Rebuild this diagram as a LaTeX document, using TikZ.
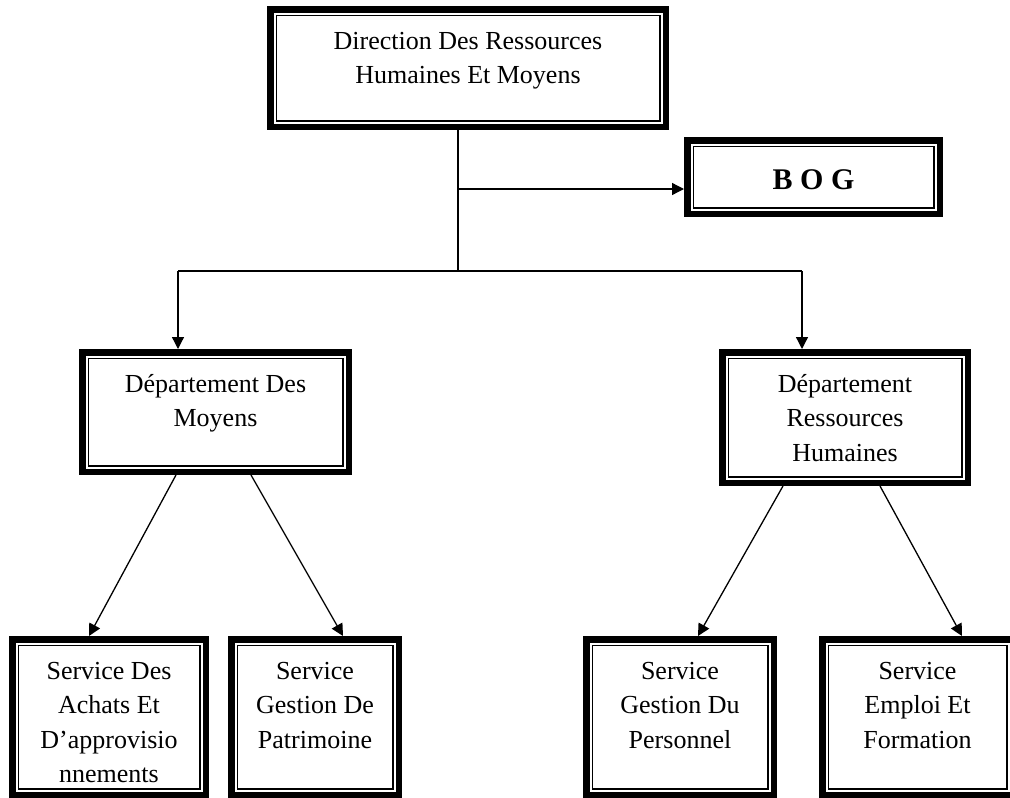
\documentclass[tikz,border=0pt]{standalone}
\usepackage{fontspec}
\setmainfont{Liberation Serif}
\usetikzlibrary{arrows.meta,calc}
\tikzset{
  frame/.style={draw=black, line width=6.5pt, inner sep=0pt, rectangle,
    append after command={\pgfextra{\draw[line width=1.6pt]
      ($(\tikzlastnode.south west)+(9.3pt,9.3pt)$) rectangle
      ($(\tikzlastnode.north east)+(-9.3pt,-9.3pt)$);}}},
  txt/.style={inner sep=0pt, align=center, anchor=north,
    font=\fontsize{26}{34.5}\selectfont},
  bogtxt/.style={inner sep=0pt, anchor=base,
    font=\fontsize{30}{34}\selectfont\bfseries},
  conn/.style={draw=black, line width=1.3pt},
  arr/.style={conn, -{Triangle[length=12pt,width=12pt]}}
}
\newcommand{\fs}{\rule{0pt}{25pt}}
\begin{document}
\begin{tikzpicture}[x=1pt,y=-1pt]
\useasboundingbox (0,0) rectangle (1010,798);
% frames
\node[frame, minimum width=395.5pt, minimum height=117.5pt] (top) at (468,68) {};
\node[frame, minimum width=252.5pt, minimum height=73.5pt] (bog) at (813.5,177) {};
\node[frame, minimum width=266.5pt, minimum height=119.5pt] (dm) at (215.5,412) {};
\node[frame, minimum width=245.5pt, minimum height=130.5pt] (drh) at (845,417.5) {};
\node[frame, minimum width=193.5pt, minimum height=155.5pt] (s1) at (109,717) {};
\node[frame, minimum width=167.5pt, minimum height=155.5pt] (s2) at (315,717) {};
\node[frame, minimum width=187.5pt, minimum height=155.5pt] (s3) at (680,717) {};
\node[frame, minimum width=190.5pt, minimum height=155.5pt] (s4) at (917.5,717) {};
% texts
\node[txt] (topt) at ([yshift=-18pt]top.north) {\fs Direction Des Ressources\\Humaines Et Moyens};
\node[bogtxt] (bogt) at ([yshift=-12pt]bog.center) {B O G};
\node[txt] (dmt) at ([yshift=-18pt]dm.north) {\fs Département Des\\Moyens};
\node[txt] (drht) at ([yshift=-18pt]drh.north) {\fs Département\\Ressources\\Humaines};
\node[txt] (s1t) at ([yshift=-18pt]s1.north) {\fs Service Des\\Achats Et\\D’approvisio\\nnements};
\node[txt] (s2t) at ([yshift=-18pt]s2.north) {\fs Service\\Gestion De\\Patrimoine};
\node[txt] (s3t) at ([yshift=-18pt]s3.north) {\fs Service\\Gestion Du\\Personnel};
\node[txt] (s4t) at ([yshift=-18pt]s4.north) {\fs Service\\Emploi Et\\Formation};
% coordinates
\coordinate (j) at (458,271);
\coordinate (b) at (458,189);
\coordinate (l) at (178,271);
\coordinate (r) at (802,271);
\coordinate (x1a) at (176,0);
\coordinate (x1b) at (89,0);
\coordinate (x2a) at (251,0);
\coordinate (x2b) at (343,0);
\coordinate (x3a) at (783,0);
\coordinate (x3b) at (698,0);
\coordinate (x4a) at (880,0);
\coordinate (x4b) at (962,0);
% connectors
\draw[conn] (top.south -| j) -- (j);
\draw[arr] (b) -- (b -| bog.west);
\draw[conn] (l) -- (r);
\draw[arr] (l) -- (l |- dm.north);
\draw[arr] (r) -- (r |- drh.north);
\draw[arr] (dm.south -| x1a) -- (s1.north -| x1b);
\draw[arr] (dm.south -| x2a) -- (s2.north -| x2b);
\draw[arr] (drh.south -| x3a) -- (s3.north -| x3b);
\draw[arr] (drh.south -| x4a) -- (s4.north -| x4b);
\end{tikzpicture}
\end{document}
